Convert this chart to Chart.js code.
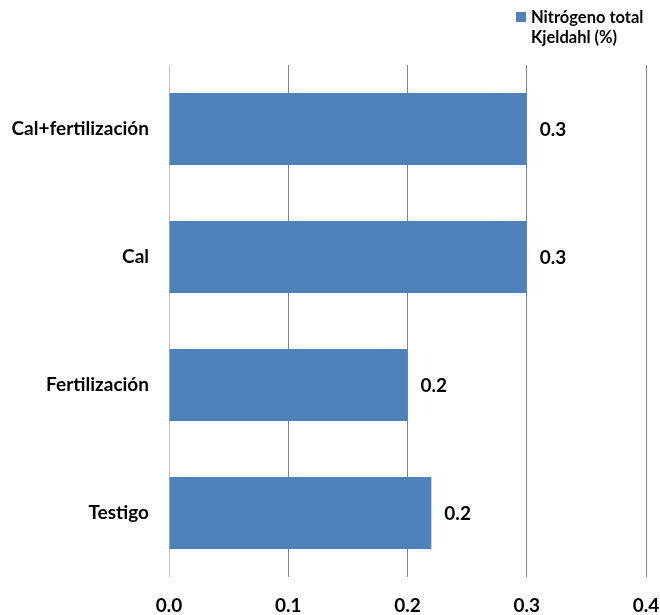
<!DOCTYPE html>
<html>
<head>
<meta charset="utf-8">
<script src="https://cdn.jsdelivr.net/npm/chart.js@4"></script>
<style>
  html, body { margin: 0; padding: 0; background: #ffffff; }
  #wrap { width: 660px; height: 615px; }
</style>
</head>
<body>
<div id="wrap"><canvas id="chart" width="660" height="615"></canvas></div>
<script>
// Categories, top to bottom
const categories = ['Cal+fertilización', 'Cal', 'Fertilización', 'Testigo'];
// Total Kjeldahl nitrogen (%) per treatment
const nitrogenValues = [0.30, 0.30, 0.20, 0.22];
const seriesLabel = ['Nitrógeno total', 'Kjeldahl (%)'];
const xTicks = [0, 0.1, 0.2, 0.3, 0.4];

const BAR_BLUE = '#4f81bd';
const FONT = 'Lato, "Open Sans", sans-serif';

// Value labels to the right of each bar
const valueLabels = {
  id: 'valueLabels',
  afterDatasetsDraw(chart) {
    const ctx = chart.ctx;
    const meta = chart.getDatasetMeta(0);
    ctx.save();
    ctx.font = 'bold 19px ' + FONT;
    ctx.fillStyle = '#000000';
    ctx.textAlign = 'left';
    ctx.textBaseline = 'middle';
    meta.data.forEach((bar, i) => {
      const v = chart.data.datasets[0].data[i];
      ctx.fillText(v.toFixed(1), bar.x + 13, bar.y + 1);
    });
    ctx.restore();
  }
};

// Two-line legend in the top right corner
const cornerLegend = {
  id: 'cornerLegend',
  afterDraw(chart) {
    const ctx = chart.ctx;
    const ds = chart.data.datasets[0];
    ctx.save();
    ctx.fillStyle = ds.backgroundColor;
    ctx.fillRect(516, 12, 10, 10);
    ctx.font = 'bold 16.5px ' + FONT;
    ctx.fillStyle = '#000000';
    ctx.textAlign = 'left';
    ctx.textBaseline = 'middle';
    ds.label.forEach((line, i) => {
      ctx.fillText(line, 531, 18 + i * 20);
    });
    ctx.restore();
  }
};

new Chart(document.getElementById('chart'), {
  type: 'bar',
  data: {
    labels: categories,
    datasets: [{
      label: seriesLabel,
      data: nitrogenValues,
      backgroundColor: BAR_BLUE,
      borderWidth: 0,
      barPercentage: 1,
      categoryPercentage: 0.5625
    }]
  },
  options: {
    indexAxis: 'y',
    responsive: false,
    animation: false,
    layout: { padding: { top: 65, right: 14, left: 0, bottom: 0 } },
    plugins: {
      legend: { display: false },
      tooltip: { enabled: false }
    },
    scales: {
      x: {
        min: 0,
        max: 0.4,
        afterBuildTicks(axis) {
          axis.ticks = xTicks.map(v => ({ value: v }));
        },
        afterFit(axis) {
          axis.height = 38;
          axis.paddingLeft = 0;
          axis.paddingRight = 0;
        },
        grid: {
          drawTicks: false,
          color: ctx => (ctx.index === 0 ? '#c0c0c0' : '#868686'),
          lineWidth: 1
        },
        border: { display: false },
        ticks: {
          padding: 17,
          color: '#000000',
          font: { family: FONT, size: 19, weight: 'bold' },
          callback: v => Number(v).toFixed(1)
        }
      },
      y: {
        afterFit(axis) {
          axis.width = 169;
          axis.paddingTop = 0;
          axis.paddingBottom = 0;
        },
        grid: { display: false, drawTicks: false },
        border: { display: false },
        ticks: {
          padding: 20,
          color: '#000000',
          font: { family: FONT, size: 19, weight: 'bold' }
        }
      }
    }
  },
  plugins: [valueLabels, cornerLegend]
});
</script>
</body>
</html>
